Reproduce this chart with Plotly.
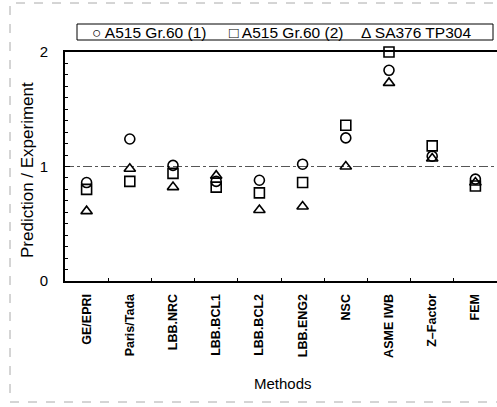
import plotly.graph_objects as go

methods = ["GE/EPRI", "Paris/Tada", "LBB.NRC", "LBB.BCL1", "LBB.BCL2",
           "LBB.ENG2", "NSC", "ASME IWB", "Z\u2013Factor", "FEM"]
a515_1 = [0.86, 1.24, 1.01, 0.87, 0.88, 1.02, 1.25, 1.84, 1.09, 0.89]
a515_2 = [0.80, 0.87, 0.94, 0.82, 0.77, 0.86, 1.36, 2.00, 1.18, 0.83]
sa376 = [0.61, 0.98, 0.82, 0.92, 0.62, 0.65, 1.00, 1.73, 1.07, 0.86]

series = [
    ("A515 Gr.60 (1)", a515_1, "circle-open", "\u25CB"),
    ("A515 Gr.60 (2)", a515_2, "square-open", "\u25A1"),
    ("SA376 TP304", sa376, "triangle-up-open", "\u0394"),
]

font = "Liberation Sans, Arial, Helvetica, sans-serif"

# plot-area geometry (pixels) used to place annotations in paper coordinates
L, R, T, B = 65, 497, 52, 281
def px(x):
    return (x - L) / (R - L)
def py(y):
    return (B - y) / (B - T)

fig = go.Figure()
for name, vals, sym, glyph in series:
    fig.add_trace(go.Scatter(
        x=methods, y=vals, mode="markers", name=name, showlegend=False,
        marker=dict(symbol=sym, size=10, color="black", line=dict(width=1.6, color="black")),
        cliponaxis=False,
    ))

fig.add_hline(y=1, line=dict(color="#555555", width=1, dash="dashdot"), layer="below")

# legend box
fig.add_shape(type="rect", xref="paper", yref="paper",
              x0=px(77), x1=px(493), y0=py(40), y1=py(24),
              line=dict(color="black", width=1), fillcolor="white")
leg_x = [90, 227, 359]
for (name, _, _, glyph), lx in zip(series, leg_x):
    fig.add_annotation(
        text=f"{glyph} {name}", xref="paper", yref="paper",
        x=px(lx), y=py(32), xanchor="left", yanchor="middle",
        showarrow=False, font=dict(size=15.5, family=font, color="black"),
    )

# faint outer frame (scanned figure border)
fig.add_shape(type="rect", xref="paper", yref="paper",
              x0=px(10), x1=px(520), y0=py(402), y1=py(3),
              line=dict(color="#aaaaaa", width=1, dash="dash"))

fig.add_annotation(
    text="Methods", xref="paper", yref="paper",
    x=px(283), y=py(383), xanchor="center", yanchor="middle",
    showarrow=False, font=dict(size=15, family=font, color="black"),
)
fig.add_annotation(
    text="Prediction / Experiment", xref="paper", yref="paper",
    x=px(27), y=py(170), xanchor="center", yanchor="middle",
    textangle=-90, showarrow=False, font=dict(size=17, family=font, color="black"),
)

fig.update_layout(
    width=497, height=407,
    margin=dict(l=L, r=497 - R, t=T, b=407 - B),
    paper_bgcolor="white", plot_bgcolor="white",
    font=dict(family=font, color="black", size=13),
    showlegend=False,
    xaxis=dict(
        type="category", range=[-0.5, 9.5],
        showline=True, linecolor="black", linewidth=2, mirror=True,
        ticks="inside", tickson="boundaries", ticklen=3, tickcolor="black",
        tickangle=-90, tickfont=dict(size=12.5, family=font, weight="bold"),
        ticklabelstandoff=6,
        showgrid=False,
    ),
    yaxis=dict(
        range=[0, 2], tickvals=[0, 1, 2],
        showline=True, linecolor="black", linewidth=2, mirror=False,
        ticks="inside", ticklen=5, tickcolor="black",
        minor=dict(dtick=0.1, ticks="inside", ticklen=3, tickcolor="black"),
        tickfont=dict(size=15, family=font),
        ticklabelstandoff=12,
        showgrid=False, zeroline=False,
    ),
)

fig.write_html("out.html", config={"displayModeBar": False},
               post_script="document.body.style.margin='0';document.body.style.overflow='hidden';")
